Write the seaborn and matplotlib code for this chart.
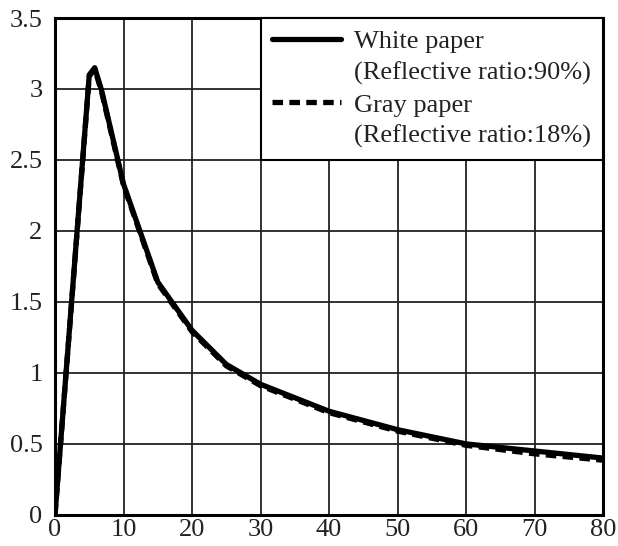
import matplotlib
matplotlib.use("Agg")
import matplotlib.pyplot as plt
import seaborn as sns
import pandas as pd
from matplotlib.lines import Line2D
from matplotlib.ticker import MultipleLocator, FuncFormatter

# values
angle = [0, 5, 5.8, 6.8, 10, 15, 20, 25, 30, 40, 50, 60, 70, 80]
white_paper = [0, 3.10, 3.15, 2.99, 2.33, 1.64, 1.30, 1.06, 0.92, 0.73, 0.60, 0.50, 0.45, 0.40]
gray_paper = [0, 3.09, 3.14, 2.98, 2.32, 1.63, 1.29, 1.05, 0.91, 0.72, 0.59, 0.49, 0.43, 0.385]
labels = ["White paper", "(Reflective ratio:90%)", "Gray paper", "(Reflective ratio:18%)"]

df = pd.DataFrame({"x": angle, "white": white_paper, "gray": gray_paper})

sns.set_style("white")
plt.rcParams["font.family"] = ["Liberation Serif", "DejaVu Serif"]

fig = plt.figure(figsize=(6.18, 5.46), dpi=100)
ax = fig.add_axes([0.089, 0.057, 0.887, 0.910])

sns.lineplot(data=df, x="x", y="gray", ax=ax, color="black", linewidth=3.8,
             linestyle=(0, (2, 1.2)))
sns.lineplot(data=df, x="x", y="white", ax=ax, color="black", linewidth=3.8)

ax.set_xlim(0, 80)
ax.set_ylim(0, 3.5)
ax.xaxis.set_major_locator(MultipleLocator(10))
ax.yaxis.set_major_locator(MultipleLocator(0.5))
ax.yaxis.set_major_formatter(FuncFormatter(lambda v, p: f"{v:g}"))
ax.grid(True, color="#222222", linewidth=1.3)
ax.set_axisbelow(True)
ax.set_xlabel("")
ax.set_ylabel("")
for s in ax.spines.values():
    s.set_color("black")
    s.set_linewidth(2.2)
ax.tick_params(labelsize=19, colors="#222222", length=0)
ax.tick_params(axis="y", pad=9)
ax.tick_params(axis="x", pad=3)

handles = [
    Line2D([], [], color="black", linewidth=3.8),
    Line2D([], [], color="none"),
    Line2D([], [], color="black", linewidth=3.8, linestyle=(0, (2, 1.2))),
    Line2D([], [], color="none"),
]
leg = ax.legend(handles, labels, loc="upper right", fontsize=19, frameon=True,
                fancybox=False, framealpha=1, edgecolor="black",
                borderaxespad=0, handlelength=2.6, handletextpad=0.5,
                labelspacing=0.3, borderpad=0.45)
leg.get_frame().set_linewidth(1.5)
for t in leg.get_texts():
    t.set_color("#222222")

fig.savefig("out.png", dpi=100)
